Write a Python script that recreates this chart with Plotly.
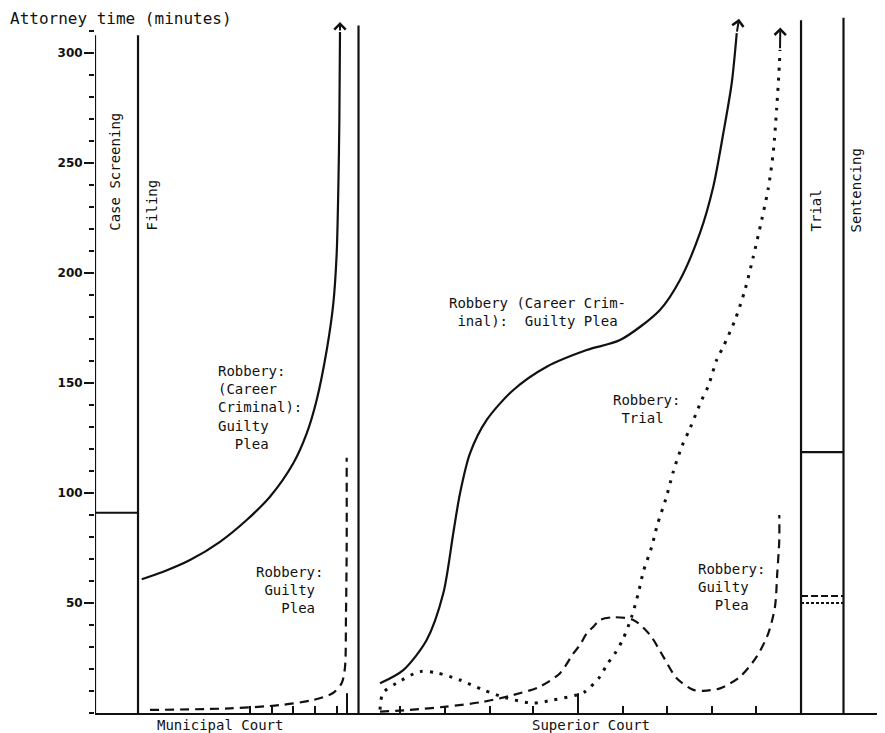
import plotly.graph_objects as go

# ---------------- data (x: process progress units 0-100, y: attorney minutes) -------------
# Municipal court: Robbery (Career Criminal): Guilty Plea  (solid)
muni_cc_x = [5.95, 8.70, 12.10, 15.92, 19.32, 22.29, 25.26, 26.97, 28.24, 29.52, 30.36, 30.79, 31.00, 31.13, 31.21]
muni_cc_y = [60.8, 64.2, 69.5, 77.8, 87.7, 98.3, 113.5, 127.1, 142.3, 165.0, 186.2, 209.0, 239.2, 269.5, 309.5]

# Municipal court: Robbery: Guilty Plea (dashed)
muni_gp_x = [7.0, 17.2, 23.57, 27.77, 30.32, 31.43, 31.85, 31.97, 32.06, 32.06]
muni_gp_y = [1.4, 2.1, 3.6, 5.9, 9.1, 13.6, 21.0, 43.8, 74.0, 116.0]

# Superior court: Robbery (Career Criminal): Guilty Plea (solid)
sup_cc_x = [36.31, 39.27, 42.25, 44.37, 45.64, 46.50, 47.77, 49.90, 53.29, 57.54, 62.64, 66.88,
            71.97, 74.52, 77.07, 78.76, 80.04, 81.11, 81.75]
sup_cc_y = [13.5, 19.5, 33.2, 54.4, 81.7, 99.9, 118.0, 133.2, 146.8, 157.4, 165.0, 169.5,
            183.2, 196.8, 218.2, 239.2, 263.5, 286.2, 309.0]

# Superior court: Robbery: Trial (dotted)
sup_tr_x = [36.31, 36.69, 38.43, 41.40, 43.53, 46.50, 49.46, 52.45, 55.80, 58.34, 61.36, 62.42,
            64.33, 65.18, 66.24, 67.30, 68.37, 69.21, 69.85, 70.92, 71.63, 72.74, 73.67, 74.74,
            75.80, 77.29, 78.13, 79.20, 80.04, 81.53, 82.80, 83.86, 84.93, 85.77, 86.41, 86.84,
            87.17, 87.26]
sup_tr_y = [1.5, 9.1, 13.6, 18.8, 18.2, 15.0, 10.5, 6.8, 4.5, 5.9, 8.2, 9.7,
            16.5, 21.8, 27.1, 33.9, 43.8, 54.4, 64.2, 75.6, 85.5, 97.6, 109.7, 121.0,
            129.4, 142.3, 148.6, 160.5, 166.5, 178.6, 192.3, 207.4, 224.1, 238.5, 255.1, 274.9,
            293.8, 301.4]

# Superior court: Robbery: Guilty Plea (dashed)
sup_gp_x = [36.31, 40.13, 44.74, 49.47, 53.29, 56.69, 59.24, 60.94, 61.78, 62.64, 63.48, 64.33,
            66.03, 68.57, 70.70, 72.39, 74.10, 76.22, 77.49, 79.62, 82.17, 84.29, 85.77, 86.62,
            86.91, 87.17, 87.17]
sup_gp_y = [0.6, 1.4, 2.9, 5.1, 8.2, 12.0, 18.1, 27.1, 30.9, 36.2, 39.2, 42.3,
            43.5, 42.3, 35.5, 25.6, 15.8, 10.5, 10.1, 11.2, 16.5, 25.6, 36.2, 48.3,
            63.5, 78.6, 90.0]

# stage boundaries (y-axis, filing, court change, trial, sentencing) and their heights
stage_x = [0.0, 5.48, 33.57, 89.94, 95.35]
stage_top = [308, 308, 312.5, 314.8, 316]

# stage levels
screening_level = 91
trial_cc_level = 118.6
trial_gp_level = 53.2
trial_tr_level = 50.0

# x-axis tick marks and taller milestone marks
xtick_vals = [19.75, 22.55, 25.22, 28.03, 30.83, 38.85, 44.59, 50.32, 55.80, 67.26, 72.87, 78.60, 84.20]
milestone_x = [32.1, 61.53]
milestone_h = 9

ytick_vals = [50, 100, 150, 200, 250, 300]
ytick_text = ["50", "100", "150", "200", "250", "300"]

INK = "#111111"
MONO = "DejaVu Sans Mono"

fig = go.Figure()

def line(x, y, dash="solid", width=2.2):
    fig.add_trace(go.Scatter(x=x, y=y, mode="lines", hoverinfo="skip",
                             line=dict(color=INK, width=width, dash=dash, shape="spline", smoothing=0.8)))

def straight(x, y, dash="solid", width=2.2):
    fig.add_trace(go.Scatter(x=x, y=y, mode="lines", hoverinfo="skip",
                             line=dict(color=INK, width=width, dash=dash)))

# stage boundaries
for sx, st in zip(stage_x, stage_top):
    straight([sx, sx], [0, st])
# stage levels
straight([stage_x[0], stage_x[1]], [screening_level, screening_level])
straight([stage_x[3], stage_x[4]], [trial_cc_level, trial_cc_level])
straight([stage_x[3], stage_x[4]], [trial_gp_level, trial_gp_level], dash="7px,3px", width=2)
straight([stage_x[3], stage_x[4]], [trial_tr_level, trial_tr_level], dash="3px,2px", width=2)
# milestones
for mx in milestone_x:
    straight([mx, mx], [0, milestone_h], width=2)

# curves
line(muni_cc_x, muni_cc_y)
line(muni_gp_x, muni_gp_y, dash="9px,6px")
line(sup_cc_x, sup_cc_y)
line(sup_tr_x, sup_tr_y, dash="3px,7px", width=3)
line(sup_gp_x, sup_gp_y, dash="9px,6px")

# arrow heads
for (tx, ty, bx, by) in [(muni_cc_x[-1], 314, muni_cc_x[-1], muni_cc_y[-1]),
                         (82.04, 315.5, sup_cc_x[-1], sup_cc_y[-1]),
                         (87.3, 311.5, sup_tr_x[-1], sup_tr_y[-1])]:
    fig.add_annotation(x=tx, y=ty, ax=bx, ay=by, xref="x", yref="y", axref="x", ayref="y",
                       showarrow=True, arrowhead=4, arrowsize=1.1, arrowwidth=2, arrowcolor=INK, text="")

def label(text, x, y, angle=0, xanchor="left", yanchor="top", size=14, xref="x", yref="y"):
    fig.add_annotation(x=x, y=y, xref=xref, yref=yref, text=text, showarrow=False, textangle=angle,
                       xanchor=xanchor, yanchor=yanchor, align="left",
                       font=dict(family=MONO, size=size, color=INK))

NB = "\u00a0"
label("Case Screening", 2.55, 246, angle=-90, xanchor="center", yanchor="middle")
label("Filing", 7.22, 231, angle=-90, xanchor="center", yanchor="middle")
label("Trial", 91.9, 228.6, angle=-90, xanchor="center", yanchor="middle")
label("Sentencing", 97.0, 237.7, angle=-90, xanchor="center", yanchor="middle")

label("Robbery:<br>(Career<br>Criminal):<br>Guilty<br>" + NB * 2 + "Plea", 15.4, 160)
label("Robbery:<br>" + NB + "Guilty<br>" + NB * 3 + "Plea", 20.2, 68.5)
label("Robbery (Career Crim-<br>" + NB + "inal):" + NB * 2 + "Guilty Plea", 44.8, 191)
label("Robbery:<br>" + NB + "Trial", 65.7, 147)
label("Robbery:<br>Guilty<br>" + NB * 2 + "Plea", 76.5, 70)

label("Municipal Court", 15.9, -0.017, xanchor="center", yanchor="middle", yref="paper")
label("Superior Court", 63.2, -0.017, xanchor="center", yanchor="middle", yref="paper")
fig.add_annotation(x=-0.1108, y=0.9886, xref="paper", yref="paper", text="Attorney time (minutes)",
                   showarrow=False, xanchor="left", yanchor="middle",
                   font=dict(family=MONO, size=16, color=INK))

# the page adds an 8px body margin, so the figure is 8px smaller than the window
fig.update_layout(
    width=877, height=725,
    margin=dict(l=87, r=5, t=2, b=20),
    paper_bgcolor="white", plot_bgcolor="white",
    showlegend=False,
    xaxis=dict(range=[0, 100], showgrid=False, zeroline=False, showline=True, linecolor=INK, linewidth=2,
               ticks="inside", tickvals=xtick_vals, ticklen=7, tickwidth=1.5, tickcolor=INK,
               showticklabels=False, fixedrange=True),
    yaxis=dict(range=[0, 319.5], showgrid=False, zeroline=False, showline=False,
               ticks="outside", tickvals=ytick_vals, ticktext=ytick_text, ticklen=10, tickwidth=2,
               tickcolor=INK, ticklabelstandoff=-1,
               tickfont=dict(family="DejaVu Sans", size=12, color=INK, weight="bold"),
               minor=dict(dtick=10, ticks="outside", ticklen=5, tickwidth=2, tickcolor=INK),
               fixedrange=True),
)

fig.write_html("out.html")
